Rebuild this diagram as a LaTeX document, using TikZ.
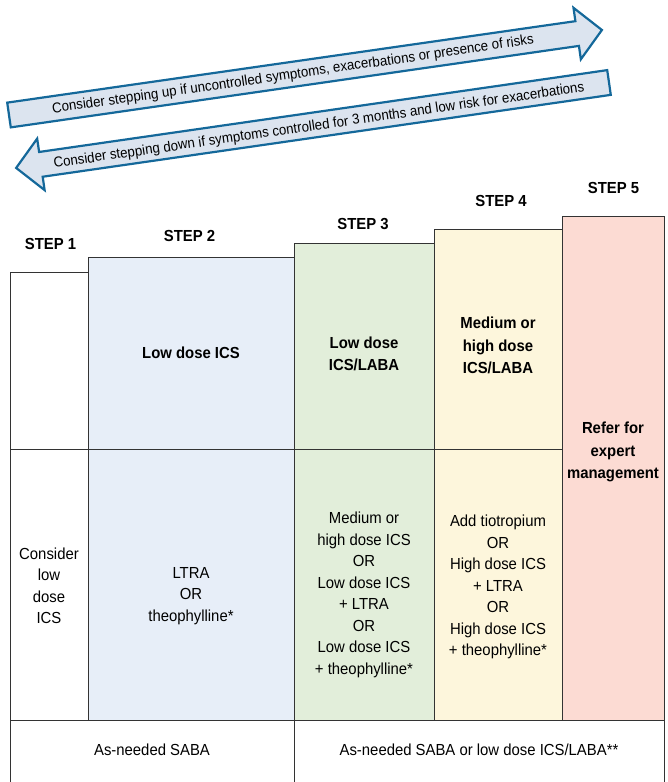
\documentclass[tikz,border=0pt]{standalone}
\usepackage{fontspec}
\setmainfont{Liberation Sans}[FakeStretch=0.93]
\definecolor{ctwo}{HTML}{E7EEF8}
\definecolor{cthree}{HTML}{E2EEDA}
\definecolor{cfour}{HTML}{FDF6DC}
\definecolor{cfive}{HTML}{FCDBD3}
\definecolor{arrowfill}{HTML}{DCE4EF}
\definecolor{arrowblue}{HTML}{14689A}
\definecolor{edge}{HTML}{333333}
\tikzset{
  cell/.style={draw=edge, line width=0.9pt, anchor=north west, inner sep=0pt, outer sep=0pt},
  lbl/.style={align=center, font=\fontsize{16}{21.5}\selectfont, inner sep=0pt},
  blbl/.style={align=center, font=\fontsize{16}{22.5}\selectfont\bfseries, inner sep=0pt},
  steplbl/.style={font=\fontsize{16}{19}\selectfont\bfseries, inner sep=0pt},
  bigarrow/.style={draw=arrowblue, fill=arrowfill, line width=2.2pt, line join=miter},
  arrtxt/.style={font=\fontsize{14.3}{15}\selectfont, rotate=8.2, inner sep=0pt}
}
\begin{document}
\begin{tikzpicture}[x=1pt, y=-1pt]
\useasboundingbox (0,0) rectangle (668,782);
\clip (0,0) rectangle (668,782);

% arrows
\begin{scope}[shift={(9,115)}, rotate=8.16]
  \draw[bigarrow] (0,-12.5) -- (574,-12.5) -- (574,-26) -- (599,0) -- (574,26) -- (574,12.5) -- (0,12.5) -- cycle;
\end{scope}
\begin{scope}[shift={(609,82.5)}, rotate=188.2]
  \draw[bigarrow] (0,-12.5) -- (574,-12.5) -- (574,-26) -- (599,0) -- (574,26) -- (574,12.5) -- (0,12.5) -- cycle;
\end{scope}
\node[arrtxt] (uptxt) at (293,75) {Consider stepping up if uncontrolled symptoms, exacerbations or presence of risks};
\node[arrtxt] (downtxt) at (319,126) {Consider stepping down if symptoms controlled for 3 months and low risk for exacerbations};

% cells
\node[cell, minimum width=78pt, minimum height=177pt] (s1u) at (10,272) {};
\node[cell, minimum width=78pt, minimum height=271pt] (s1l) at (10,449) {};
\node[cell, fill=ctwo, minimum width=206pt, minimum height=192pt] (s2u) at (88,257) {};
\node[cell, fill=ctwo, minimum width=206pt, minimum height=271pt] (s2l) at (88,449) {};
\node[cell, fill=cthree, minimum width=140pt, minimum height=206pt] (s3u) at (294,243) {};
\node[cell, fill=cthree, minimum width=140pt, minimum height=271pt] (s3l) at (294,449) {};
\node[cell, fill=cfour, minimum width=128pt, minimum height=220pt] (s4u) at (434,229) {};
\node[cell, fill=cfour, minimum width=128pt, minimum height=271pt] (s4l) at (434,449) {};
\node[cell, fill=cfive, minimum width=102pt, minimum height=504pt] (s5) at (562,216) {};
\node[cell, minimum width=284pt, minimum height=70pt] (b1) at (10,720) {};
\node[cell, minimum width=370pt, minimum height=70pt] (b2) at (294,720) {};

% step labels
\node[steplbl] (l1) at (50.5,243.5) {STEP 1};
\node[steplbl] (l2) at (189.5,235.5) {STEP 2};
\node[steplbl] (l3) at (363,223.5) {STEP 3};
\node[steplbl] (l4) at (501,200.5) {STEP 4};
\node[steplbl] (l5) at (613.5,187.5) {STEP 5};

% upper texts
\node[blbl] (t2u) at (191,353) {Low dose ICS};
\node[blbl] (t3u) at (364,354) {Low dose\\ICS/LABA};
\node[blbl] (t4u) at (498,345.5) {Medium or\\high dose\\ICS/LABA};
\node[blbl] (t5) at (613,452) {Refer for\\expert\\management};

% lower texts
\node[lbl] (t1l) at (49,586) {Consider\\low\\dose\\ICS};
\node[lbl] (t2l) at (191,596) {LTRA\\OR\\theophylline*};
\node[lbl] (t3l) at (364,595) {Medium or\\high dose ICS\\OR\\Low dose ICS\\+ LTRA\\OR\\Low dose ICS\\+ theophylline*};
\node[lbl] (t4l) at (498,587) {Add tiotropium\\OR\\High dose ICS\\+ LTRA\\OR\\High dose ICS\\+ theophylline*};

% bottom texts
\node[lbl] (tb1) at (152,750) {As-needed SABA};
\node[lbl] (tb2) at (479,750) {As-needed SABA or low dose ICS/LABA**};
\end{tikzpicture}
\end{document}
